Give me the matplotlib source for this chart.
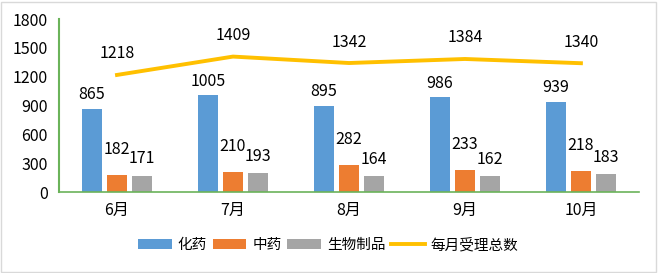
import numpy as np
import matplotlib.pyplot as plt
from matplotlib.patches import Rectangle

plt.rcParams['font.family'] = ['Noto Sans CJK SC', 'DejaVu Sans']

months = ['6月', '7月', '8月', '9月', '10月']
chem = [865, 1005, 895, 986, 939]
tcm = [182, 210, 282, 233, 218]
bio = [171, 193, 164, 162, 183]
total = [1218, 1409, 1342, 1384, 1340]

series_names = ['化药', '中药', '生物制品', '每月受理总数']
colors = ['#5B9BD5', '#ED7D31', '#A5A5A5', '#FFC000']
green = '#6BB35A'

fig = plt.figure(figsize=(6.58, 2.73), dpi=100)
ax = fig.add_axes([0.0897, 0.2967, 0.8813, 0.6337])

x = np.arange(len(months))
w = 0.175
step = 0.217
offsets = [4, 12, 6]  # label gap above bar (points)
handles = []
for i, (vals, c, name) in enumerate(zip([chem, tcm, bio], colors, series_names)):
    pos = x + (i - 1) * step
    h = ax.bar(pos, vals, width=w, color=c, label=name, zorder=2)
    handles.append(h)
    for px, v in zip(pos, vals):
        ax.annotate(str(v), (px, v), xytext=(0, offsets[i]),
                    textcoords='offset points', ha='center', va='bottom', fontsize=11.5)

ln, = ax.plot(x, total, color=colors[3], lw=2.8, label=series_names[3], zorder=3)
handles.append(ln)
for px, v in zip(x, total):
    ax.annotate(str(v), (px, v), xytext=(0, 9), textcoords='offset points',
                ha='center', va='bottom', fontsize=11.5)

ax.set_xlim(-0.5, 4.5)
ax.set_ylim(0, 1800)
ax.set_yticks(range(0, 1801, 300))
ax.set_xticks(x)
ax.set_xticklabels(months)
ax.tick_params(axis='both', length=0, labelsize=11.5)
ax.tick_params(axis='y', pad=8)
ax.tick_params(axis='x', pad=7)

for s in ['top', 'right']:
    ax.spines[s].set_visible(False)
ax.spines['left'].set_color(green)
ax.spines['bottom'].set_color(green)
ax.spines['left'].set_linewidth(1.5)
ax.spines['bottom'].set_linewidth(1.2)

fig.legend(handles, series_names, loc='center', bbox_to_anchor=(0.499, 0.103),
           ncol=4, frameon=False, fontsize=10.5, handlelength=2.3, handleheight=0.7,
           handletextpad=0.4, columnspacing=0.4)

fig.patches.append(Rectangle((0.002, 0.004), 0.995, 0.99, transform=fig.transFigure,
                             fill=False, edgecolor='#D9D9D9', lw=1))

fig.savefig('out.png', dpi=100)
